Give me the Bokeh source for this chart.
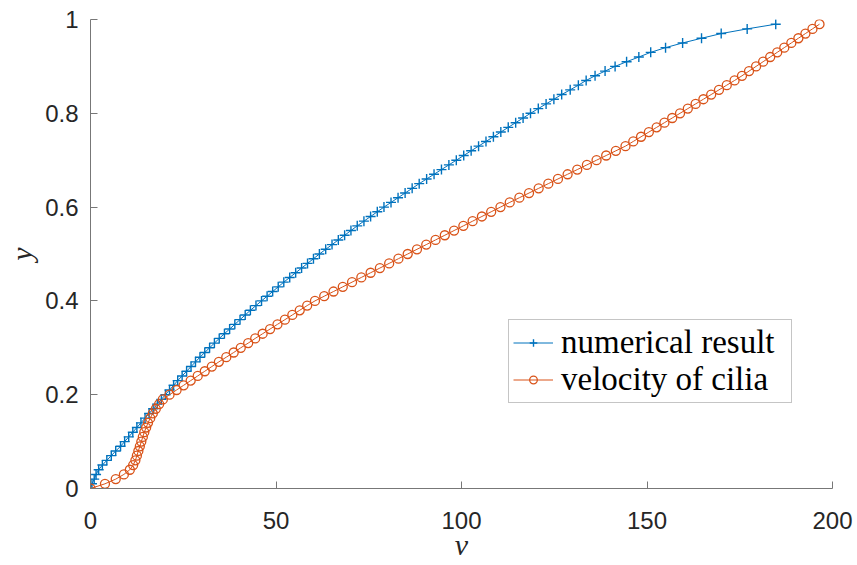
from bokeh.plotting import figure
from bokeh.models import Range1d, FixedTicker, NumeralTickFormatter, Legend, LegendItem
from bokeh.embed import file_html
from bokeh.resources import INLINE

# ---- data ----
y_levels = [
    0.00, 0.01, 0.02, 0.03, 0.04, 0.05, 0.06, 0.07, 0.08, 0.09,
    0.10, 0.11, 0.12, 0.13, 0.14, 0.15, 0.16, 0.17, 0.18, 0.19,
    0.20, 0.21, 0.22, 0.23, 0.24, 0.25, 0.26, 0.27, 0.28, 0.29,
    0.30, 0.31, 0.32, 0.33, 0.34, 0.35, 0.36, 0.37, 0.38, 0.39,
    0.40, 0.41, 0.42, 0.43, 0.44, 0.45, 0.46, 0.47, 0.48, 0.49,
    0.50, 0.51, 0.52, 0.53, 0.54, 0.55, 0.56, 0.57, 0.58, 0.59,
    0.60, 0.61, 0.62, 0.63, 0.64, 0.65, 0.66, 0.67, 0.68, 0.69,
    0.70, 0.71, 0.72, 0.73, 0.74, 0.75, 0.76, 0.77, 0.78, 0.79,
    0.80, 0.81, 0.82, 0.83, 0.84, 0.85, 0.86, 0.87, 0.88, 0.89,
    0.90, 0.91, 0.92, 0.93, 0.94, 0.95, 0.96, 0.97, 0.98, 0.99,
]

v_numerical = [
    0.0, 0.4, 1.0, 1.5, 2.2, 3.2, 4.4, 5.6, 6.8, 8.1,
    9.2, 10.3, 11.4, 12.5, 13.6, 14.7, 15.8, 16.9, 18.0, 19.1,
    20.2, 21.3, 22.4, 23.5, 24.7, 25.9, 27.1, 28.3, 29.5, 30.8,
    32.1, 33.4, 34.7, 36.1, 37.5, 38.9, 40.3, 41.7, 43.1, 44.6,
    46.1, 47.6, 49.1, 50.6, 52.1, 53.7, 55.3, 56.9, 58.5, 60.1,
    61.7, 63.4, 65.1, 66.8, 68.5, 70.2, 71.9, 73.7, 75.5, 77.3,
    79.1, 81.0, 82.9, 84.8, 86.7, 88.6, 90.6, 92.6, 94.6, 96.6,
    98.6, 100.6, 102.6, 104.6, 106.6, 108.6, 110.6, 112.6, 114.6, 116.6,
    118.6, 120.7, 122.8, 124.9, 127.0, 129.3, 131.5, 133.6, 136.0, 138.7,
    141.4, 144.5, 147.8, 151.0, 155.0, 159.6, 164.7, 170.0, 177.0, 184.7,
]

v_cilia = [
    0.0, 3.9, 6.8, 9.0, 10.6, 11.5, 12.1, 12.5, 12.9, 13.3,
    13.7, 14.1, 14.5, 15.0, 15.5, 16.1, 16.8, 17.6, 18.5, 19.5,
    21.3, 23.2, 25.1, 27.0, 28.9, 30.8, 32.7, 34.6, 36.6, 38.6,
    40.5, 42.5, 44.4, 46.4, 48.4, 50.4, 52.4, 54.4, 56.4, 58.4,
    60.5, 63.0, 65.5, 68.0, 70.5, 73.0, 75.5, 78.0, 80.5, 83.0,
    85.5, 88.0, 90.5, 93.0, 95.5, 98.0, 100.5, 103.0, 105.5, 108.0,
    110.5, 113.0, 115.6, 118.2, 120.8, 123.4, 126.0, 128.6, 131.2, 133.8,
    136.4, 139.0, 141.6, 144.2, 146.3, 148.4, 150.5, 152.6, 154.7, 156.8,
    158.9, 161.0, 163.1, 165.2, 167.3, 169.4, 171.5, 173.6, 175.6, 177.5,
    179.4, 181.3, 183.2, 185.1, 187.0, 188.9, 190.8, 192.7, 194.6, 196.5,
]

series_names = ["numerical result", "velocity of cilia"]
x_ticks = [0, 50, 100, 150, 200]
x_tick_labels = ["0", "50", "100", "150", "200"]
y_ticks = [0, 0.2, 0.4, 0.6, 0.8, 1]
y_tick_labels = ["0", "0.2", "0.4", "0.6", "0.8", "1"]
x_title = "v"
y_title = "y"

BLUE = "#0072BD"
ORANGE = "#D95319"
AXIS_GRAY = "#777777"
TICK_TEXT = "#262626"

p = figure(
    width=857, height=565,
    x_range=Range1d(0, 200), y_range=Range1d(0, 1),
    output_backend="svg", toolbar_location=None,
    min_border_left=90, min_border_right=25,
    min_border_top=19, min_border_bottom=77,
)
p.xgrid.visible = False
p.ygrid.visible = False
p.outline_line_color = None
p.background_fill_color = "white"
p.border_fill_color = "white"

l1 = p.line(v_numerical, y_levels, line_color=BLUE, line_width=1)
s1 = p.scatter(v_numerical, y_levels, marker="cross", size=10,
               line_color=BLUE, line_width=1.4)
l2 = p.line(v_cilia, y_levels, line_color=ORANGE, line_width=1)
s2 = p.scatter(v_cilia, y_levels, marker="circle", size=9,
               line_color=ORANGE, fill_color=None, line_width=1.3)

for ax in (p.xaxis[0], p.yaxis[0]):
    ax.axis_line_color = AXIS_GRAY
    ax.axis_line_width = 1
    ax.major_tick_line_color = AXIS_GRAY
    ax.major_tick_in = 7
    ax.major_tick_out = 0
    ax.minor_tick_line_color = None
    ax.major_label_text_font = "Liberation Sans"
    ax.major_label_text_font_size = "24px"
    ax.major_label_text_color = TICK_TEXT
    ax.axis_label_text_font = "Liberation Serif"
    ax.axis_label_text_font_style = "italic"
    ax.axis_label_text_font_size = "30px"
    ax.axis_label_text_color = TICK_TEXT

p.xaxis.ticker = FixedTicker(ticks=x_ticks)
p.yaxis.ticker = FixedTicker(ticks=y_ticks)
p.xaxis.formatter = NumeralTickFormatter(format="0")
p.yaxis.formatter = NumeralTickFormatter(format="0.[0]")
p.xaxis.major_label_overrides = dict(zip(x_ticks, x_tick_labels))
p.yaxis.major_label_overrides = dict(zip(y_ticks, y_tick_labels))
p.xaxis.major_label_standoff = 23
p.yaxis.major_label_standoff = 12
p.xaxis.axis_label = x_title
p.yaxis.axis_label = y_title
p.xaxis.axis_label_standoff = -4
p.yaxis.axis_label_standoff = 4

legend = Legend(
    items=[
        LegendItem(label=series_names[0], renderers=[l1, s1]),
        LegendItem(label=series_names[1], renderers=[l2, s2]),
    ],
    location=(418, 85),
    margin=0, padding=4, spacing=0,
    glyph_width=40, glyph_height=19, label_height=37,
    label_width=226, label_standoff=8,
    label_text_font="Liberation Serif", label_text_font_size="33px",
    label_text_color="black",
    border_line_color="#8c8c8c", border_line_width=1,
    background_fill_color="white", background_fill_alpha=1,
)
p.add_layout(legend)

open("out.html", "w").write(file_html(p, INLINE))
